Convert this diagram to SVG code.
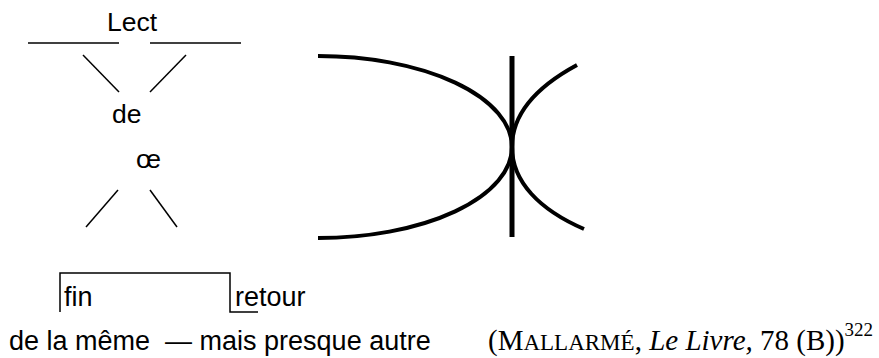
<svg xmlns="http://www.w3.org/2000/svg" width="879" height="358" viewBox="0 0 879 358">
<style>
.t{font-family:"Liberation Sans",Arial,sans-serif;font-size:26.5px;fill:#000}
.b{font-family:"Liberation Sans",Arial,sans-serif;font-size:27px;fill:#000}
.c{font-family:"Liberation Serif","Times New Roman",serif;font-size:29px;fill:#000}
.thin{stroke:#000;stroke-width:1.5;fill:none}
.thick{stroke:#000;stroke-width:4;fill:none}
</style>
<rect width="879" height="358" fill="#fff"/>
<g id="lect-figure">
<text class="t" x="107" y="31">Lect</text>
<line class="thin" x1="28" y1="43" x2="119" y2="43"/>
<line class="thin" x1="150" y1="43" x2="241" y2="43"/>
<line class="thin" x1="83" y1="55" x2="119" y2="92"/>
<line class="thin" x1="186" y1="55" x2="150" y2="92"/>
<text class="t" x="112" y="123">de</text>
<text class="t" x="136" y="168">œ</text>
<line class="thin" x1="118" y1="190" x2="86" y2="227"/>
<line class="thin" x1="150" y1="190" x2="177" y2="227"/>
</g>
<g id="curves">
<path class="thick" d="M318,56 A194,91 0 0 1 318,238"/>
<line x1="512" y1="56" x2="512" y2="237" stroke="#000" stroke-width="5"/>
<path class="thick" d="M577,65 C540,85 512,112 512,147 C512,182 540,210 584,229"/>
</g>
<g id="bracket">
<path class="thin" d="M60,312 V273 H230 V312 H258"/>
<text class="b" x="64" y="306">fin</text>
<text class="b" x="235" y="306">retour</text>
</g>
<g id="bottom-line">
<text class="b" x="9" y="350" xml:space="preserve">de la même  — mais presque autre</text>
</g>
<g id="citation">
<text class="c" x="488" y="350">(M<tspan font-size="23">ALLARMÉ</tspan>, <tspan font-style="italic">Le Livre,</tspan> 78 (B))<tspan font-size="19" dy="-14">322</tspan></text>
</g>
</svg>
